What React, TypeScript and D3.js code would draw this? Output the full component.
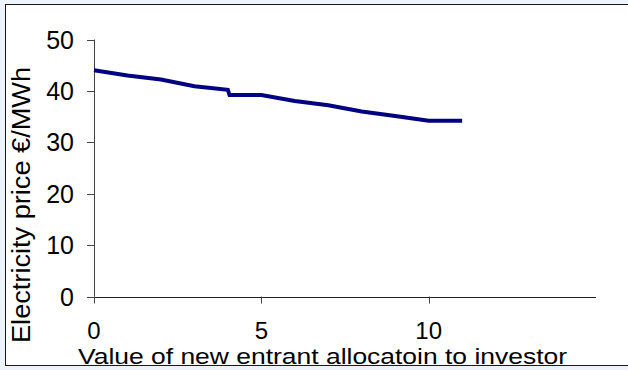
import React from "react";
import * as d3 from "d3";

const xValues = [0, 1, 2, 3, 4, 4.05, 5, 6, 7, 8, 9, 10, 11];
const priceValues = [44, 43, 42.2, 40.9, 40.2, 39.2, 39.2, 38.05, 37.2, 36, 35.1, 34.2, 34.2];
const yTicks = [0, 10, 20, 30, 40, 50];
const xTicks = [0, 5, 10];
const xTitle = "Value of new entrant allocatoin to investor";
const yTitle = "Electricity price €/MWh";

const W = 628;
const H = 370;
const FONT = "Liberation Sans, Arial, sans-serif";

export default function App() {
  const x = d3.scaleLinear().domain([0, 15]).range([94, 596]);
  const y = d3.scaleLinear().domain([0, 50]).range([296.5, 39.5]);
  const data = xValues.map((v, i) => [v, priceValues[i]] as [number, number]);
  const line = d3
    .line<[number, number]>()
    .x((d) => x(d[0]))
    .y((d) => y(d[1]));

  return (
    <svg
      width={W}
      height={H}
      style={{ position: "absolute", left: 0, top: 0, display: "block" }}
      fontFamily={FONT}
    >
      <rect x={0} y={0} width={W} height={H} fill="#eef3fb" />
      <rect x={5.5} y={4.5} width={W + 10} height={361} fill="#ffffff" stroke="#1a1a1a" strokeWidth={1} />
      <defs>
        <clipPath id="frame">
          <rect x={6} y={5} width={W} height={360} />
        </clipPath>
      </defs>
      <g clipPath="url(#frame)">
        {/* y axis */}
        <line x1={x(0) + 0.5} x2={x(0) + 0.5} y1={y(50)} y2={y(0)} stroke="#444" strokeWidth={1} />
        {yTicks.map((t) => (
          <g key={"y" + t}>
            <line x1={x(0) - 7} x2={x(0) + 0.5} y1={Math.round(y(t)) + 0.5} y2={Math.round(y(t)) + 0.5} stroke="#444" strokeWidth={1} />
            <text x={74} y={y(t) + 9} textAnchor="end" fontSize={25} fill="#000">
              {t}
            </text>
          </g>
        ))}
        {/* x axis */}
        <line x1={x(0)} x2={x(15)} y1={Math.round(y(0)) + 0.5} y2={Math.round(y(0)) + 0.5} stroke="#222" strokeWidth={1} />
        {xTicks.map((t) => (
          <g key={"x" + t}>
            <line x1={Math.round(x(t)) + 0.5} x2={Math.round(x(t)) + 0.5} y1={y(0)} y2={y(0) + 7} stroke="#444" strokeWidth={1} />
            <text x={x(t)} y={339} textAnchor="middle" fontSize={24} fill="#000">
              {t}
            </text>
          </g>
        ))}
        <path d={line(data) ?? ""} fill="none" stroke="#000080" strokeWidth={4} strokeLinejoin="miter" />
        <text x={78} y={364} fontSize={22} fill="#000" textLength={489} lengthAdjust="spacingAndGlyphs">
          {xTitle}
        </text>
        <text
          transform={`translate(30,205) rotate(-90)`}
          textAnchor="middle"
          fontSize={26}
          fill="#000"
          textLength={276}
          lengthAdjust="spacingAndGlyphs"
        >
          {yTitle}
        </text>
      </g>
    </svg>
  );
}
